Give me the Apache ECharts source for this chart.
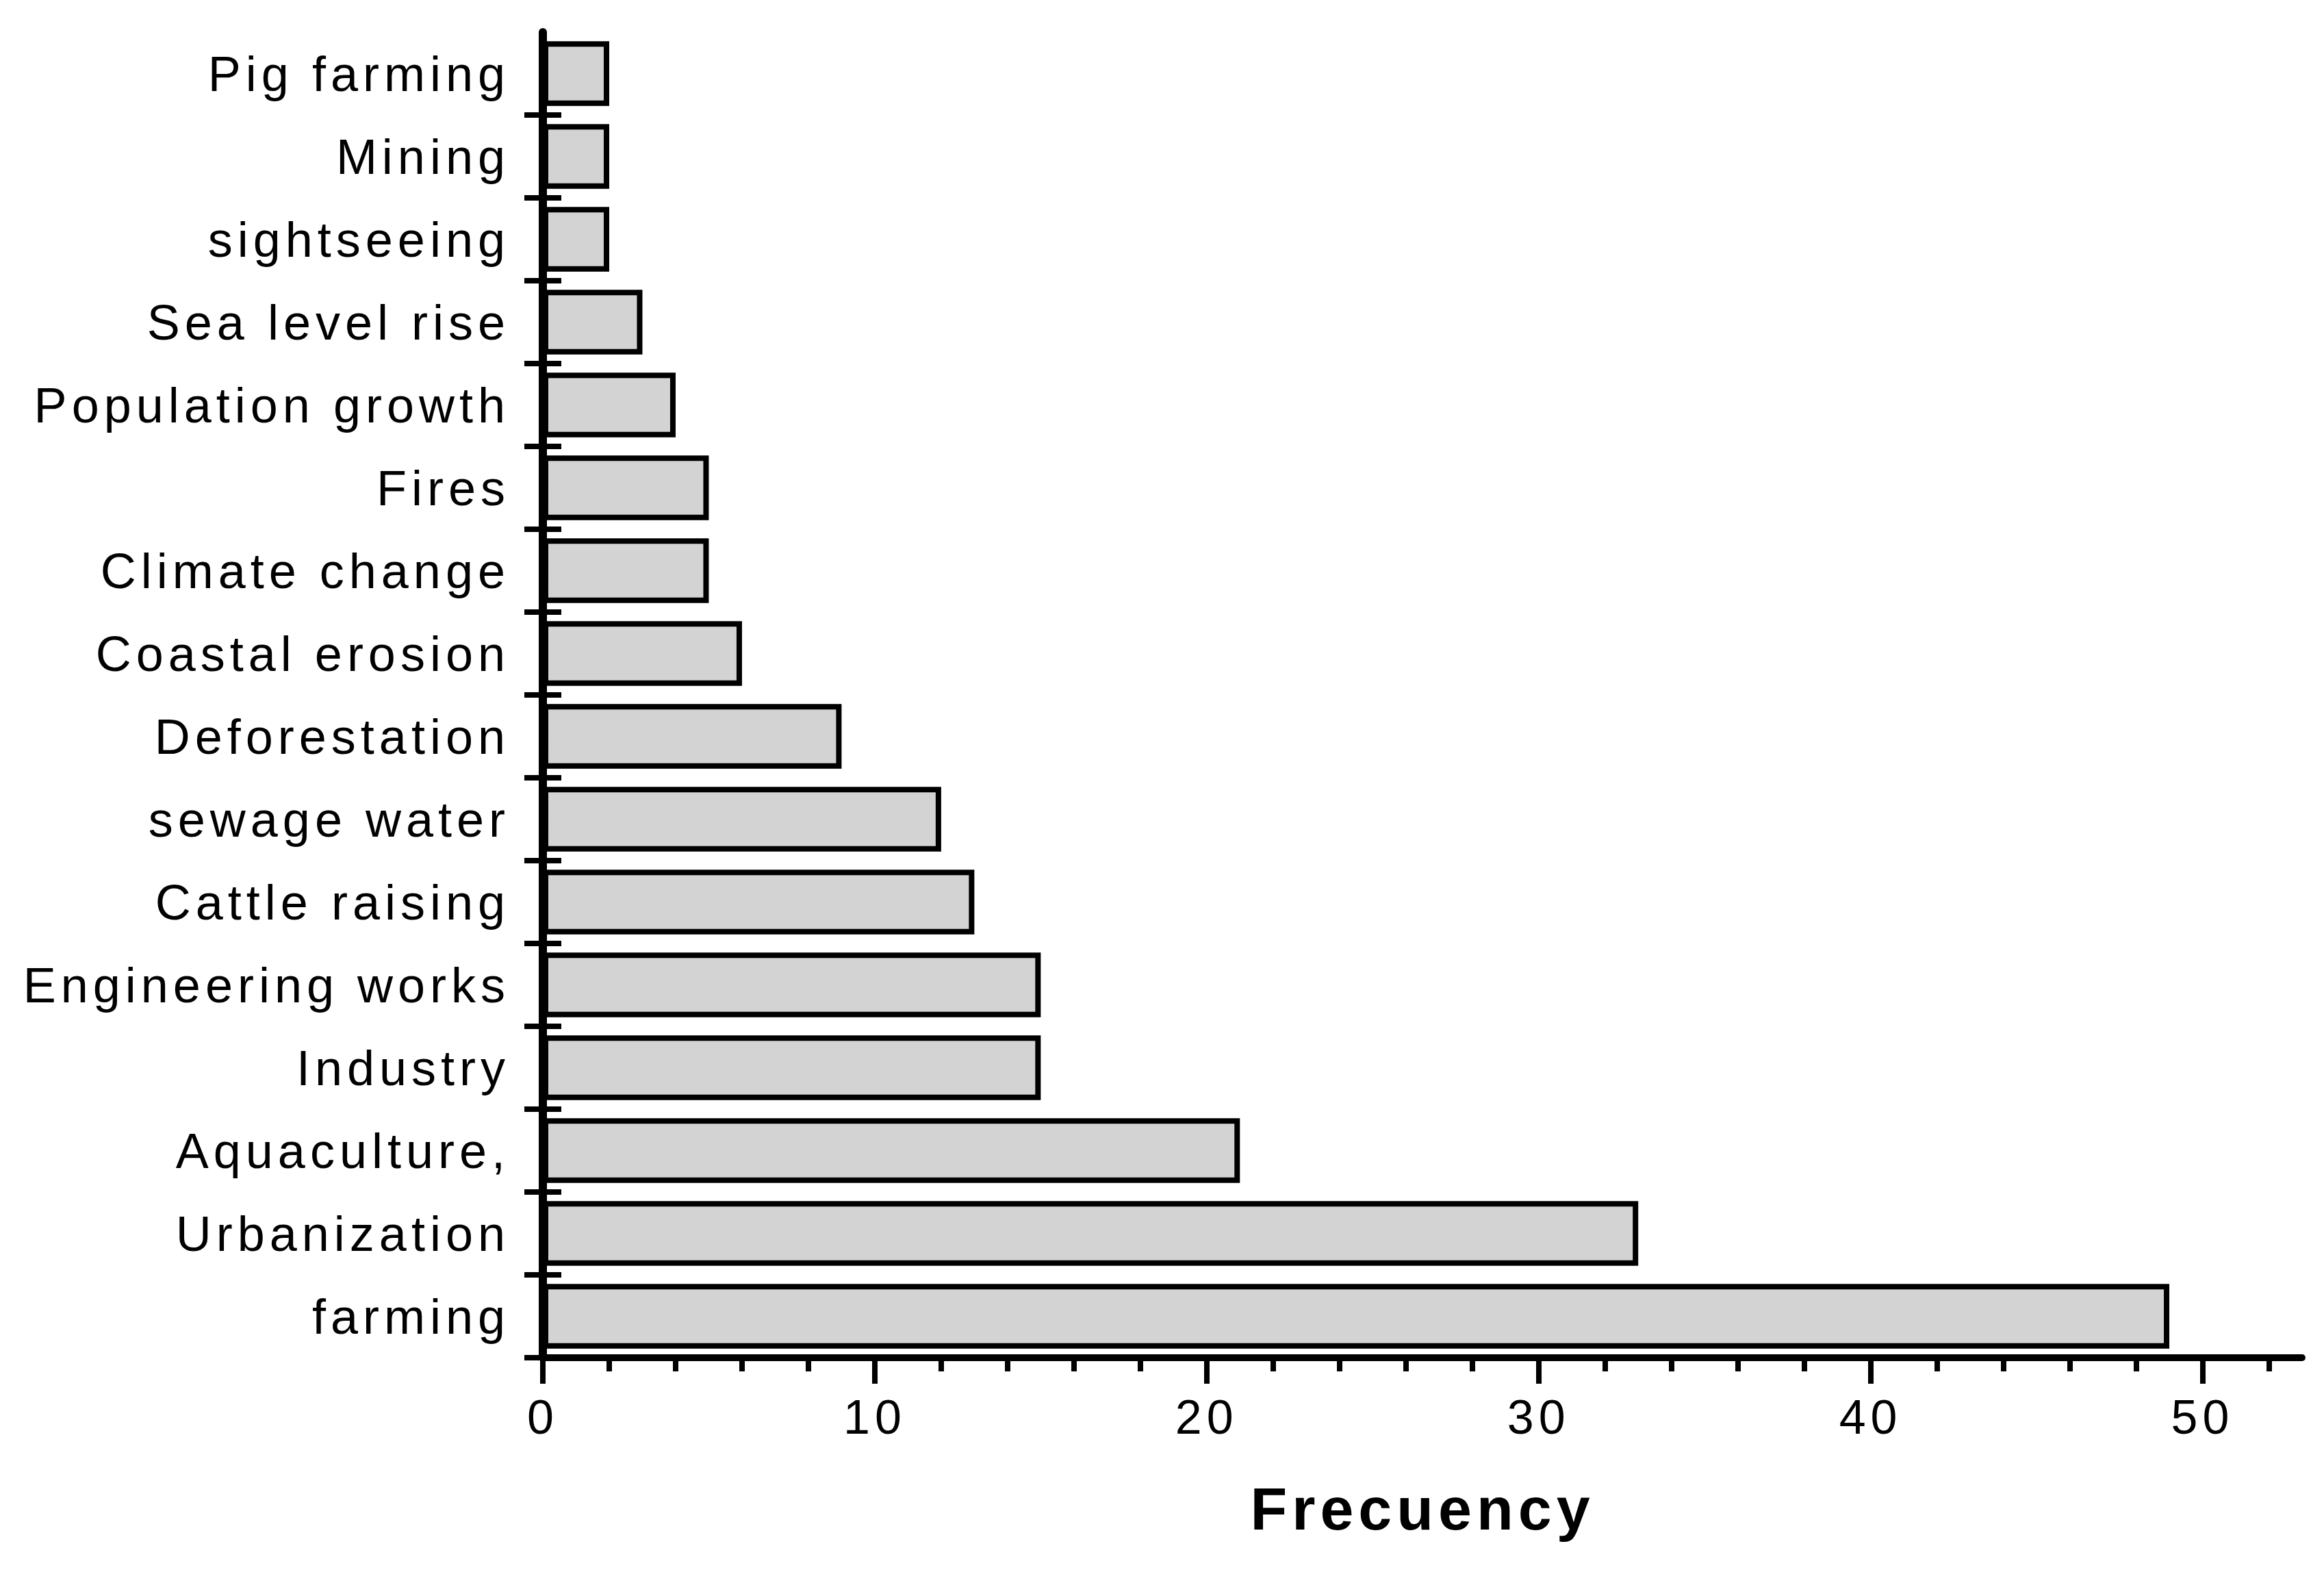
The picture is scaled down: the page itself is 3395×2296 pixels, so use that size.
<!DOCTYPE html>
<html>
<head>
<meta charset="utf-8">
<script src="https://cdn.jsdelivr.net/npm/echarts@6/dist/echarts.min.js"></script>
<style>
  html, body { margin: 0; padding: 0; background: #ffffff; }
  #chart { width: 3395px; height: 2296px; }
  #chart text { letter-spacing: 7px; }
</style>
</head>
<body>
<div id="chart"></div>
<script>
// Categories, top to bottom
const categories = [
  'Pig farming', 'Mining', 'sightseeing', 'Sea level rise', 'Population growth',
  'Fires', 'Climate change', 'Coastal erosion', 'Deforestation', 'sewage water',
  'Cattle raising', 'Engineering works', 'Industry', 'Aquaculture,', 'Urbanization', 'farming'
];
// Frequency values
const frequency = [2, 2, 2, 3, 4, 5, 5, 6, 9, 12, 13, 15, 15, 21, 33, 49];
// Tick positions on the frequency axis
const majorTicks = [0, 10, 20, 30, 40, 50];
const minorTicks = [2, 4, 6, 8, 12, 14, 16, 18, 22, 24, 26, 28, 32, 34, 36, 38, 42, 44, 46, 48, 52];
const axisMax = 53;
const xTitle = 'Frecuency';

const FONT = 'Liberation Sans, Arial, sans-serif';
const chart = echarts.init(document.getElementById('chart'), null, { renderer: 'svg' });

// no tick at the very top edge of the category axis
const skipFirst = function (index) { return index !== 0; };

chart.setOption({
  animation: false,
  backgroundColor: '#ffffff',
  grid: { left: 793, right: 32, top: 47, bottom: 313, containLabel: false },
  xAxis: [
    {
      type: 'value', min: 0, max: axisMax, position: 'bottom',
      name: xTitle, nameLocation: 'middle', nameGap: 176,
      nameTextStyle: { fontFamily: FONT, fontSize: 88, fontWeight: 'bold', color: '#000' },
      axisLine: { show: true, lineStyle: { color: '#000', width: 10 } },
      axisTick: { show: true, customValues: majorTicks, length: 38, lineStyle: { color: '#000', width: 8 } },
      axisLabel: { show: true, customValues: majorTicks, margin: 52, fontFamily: FONT, fontSize: 70, color: '#000' },
      splitLine: { show: false }
    },
    {
      type: 'value', min: 0, max: axisMax, position: 'bottom',
      axisLine: { show: false },
      axisTick: { show: true, customValues: minorTicks, length: 20, lineStyle: { color: '#000', width: 8 } },
      axisLabel: { show: false },
      splitLine: { show: false }
    }
  ],
  yAxis: [
    {
      type: 'category', data: categories, inverse: true, position: 'left',
      axisLine: { show: true, lineStyle: { color: '#000', width: 12 } },
      axisTick: { show: true, inside: false, interval: skipFirst, length: 27, lineStyle: { color: '#000', width: 8 } },
      axisLabel: { show: true, margin: 48, fontFamily: FONT, fontSize: 72, color: '#000' },
      splitLine: { show: false }
    },
    {
      type: 'category', data: categories, inverse: true, position: 'left',
      axisLine: { show: false },
      axisTick: { show: true, inside: true, interval: skipFirst, length: 27, lineStyle: { color: '#000', width: 8 } },
      axisLabel: { show: false },
      splitLine: { show: false }
    }
  ],
  series: [
    {
      type: 'bar', xAxisIndex: 0, yAxisIndex: 0,
      data: frequency,
      barCategoryGap: '22%',
      itemStyle: { color: '#d3d3d3', borderColor: '#000', borderWidth: 8 },
      z: 1
    }
  ]
});
</script>
</body>
</html>
